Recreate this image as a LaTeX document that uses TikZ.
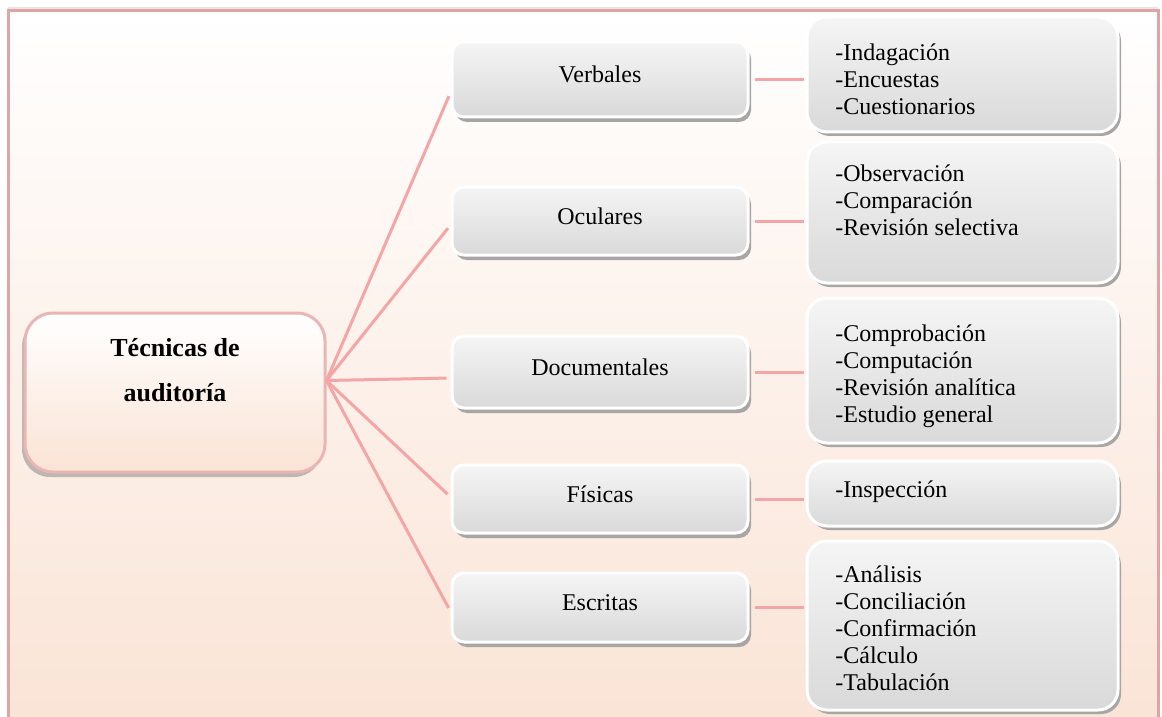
\documentclass[tikz,border=0pt]{standalone}
\usepackage{fontspec}
\setmainfont{Liberation Serif}
\usetikzlibrary{shadows}

\definecolor{framepink}{HTML}{E1A4A4}
\definecolor{rootpink}{HTML}{E9B5B5}
\definecolor{linkpink}{HTML}{F5A5A5}
\definecolor{peach}{HTML}{FAE3D5}
\definecolor{boxtop}{HTML}{F5F5F5}
\definecolor{boxbot}{HTML}{D9D9D9}
\definecolor{boxshade}{HTML}{A8A6A4}

\begin{document}
\begin{tikzpicture}[x=0.5pt,y=-0.5pt,
	rootbox/.style={draw=rootpink, line width=1.5pt, rounded corners=14pt, top color=white, bottom color=peach,
		minimum width=150pt, minimum height=79.5pt, drop shadow={shadow xshift=-1.5pt, shadow yshift=-2.5pt, opacity=.5}},
	midbox/.style={draw=white, line width=1.5pt, rounded corners=6pt, top color=boxtop, bottom color=boxbot,
		minimum width=148pt, text height=9pt, text depth=6pt, font=\fontsize{12}{13.5}\selectfont,
		drop shadow={shadow xshift=1.5pt, shadow yshift=-2.5pt, fill=boxshade, opacity=1}},
	listbox/.style={draw=white, line width=1.5pt, rounded corners=10pt, top color=boxtop, bottom color=boxbot,
		minimum width=155.5pt, drop shadow={shadow xshift=1.5pt, shadow yshift=-2pt, fill=boxshade, opacity=1}},
	listtext/.style={anchor=north west, inner sep=0pt, align=left, font=\fontsize{12}{13.5}\selectfont},
	link/.style={draw=linkpink, line width=1.5pt}]
	\useasboundingbox (0,0) rectangle (1162,717);
	\clip (0,0) rectangle (1162,717);
	% frame with background
	\draw[framepink, line width=1.5pt, top color=white, bottom color=peach,
		drop shadow={shadow xshift=0pt, shadow yshift=2pt, opacity=.2}] (8,11) rectangle (1158,740);

	% main node
	\node[rootbox] (root) at (175,392.5) {};
	\node[anchor=north, align=center, inner sep=0pt, font=\bfseries\fontsize{13}{22.5}\selectfont] (root-text) at (175,338) {Técnicas de\\auditoría};
	\coordinate (hub) at ([yshift=6pt]root.east);

	% kinds of techniques
	\foreach \nm/\y/\h/\txt in {verbales/79.5/75/Verbales, oculares/221/68/Oculares, documentales/372/72/Documentales,
		fisicas/499/68/Físicas, escritas/607.5/69/Escritas}
		\node[midbox, minimum height=\h*0.5pt] (\nm) at (600,\y) {\txt};

	% lists of techniques
	\foreach \nm/\y/\h/\ty/\items in {
		verbales/74.5/115/43.5/{-Indagación\\-Encuestas\\-Cuestionarios},
		oculares/212.5/141/164.5/{-Observación\\-Comparación\\-Revisión selectiva},
		documentales/370.5/145/324.5/{-Comprobación\\-Computación\\-Revisión analítica\\-Estudio general},
		fisicas/493.5/65/480.5/{-Inspección},
		escritas/625.5/169/565.5/{-Análisis\\-Conciliación\\-Confirmación\\-Cálculo\\-Tabulación}}{
		\node[listbox, minimum height=\h*0.5pt] (\nm-items) at (962.5,\y) {};
		\node[listtext] (\nm-text) at (835,\ty) {\items};
	}

	% connectors (\dy: where the line meets the box, below its middle)
	\foreach \nm/\dy in {verbales/-6.5pt,oculares/-2pt,documentales/-3pt,fisicas/1pt,escritas/-2pt}{
		\draw[link, shorten >=2pt] (hub) -- ([yshift=\dy]\nm.west);
		\draw[link, shorten <=2.5pt, shorten >=1pt] (\nm.east) -- (\nm.east -| \nm-items.west);
	}
\end{tikzpicture}
\end{document}
